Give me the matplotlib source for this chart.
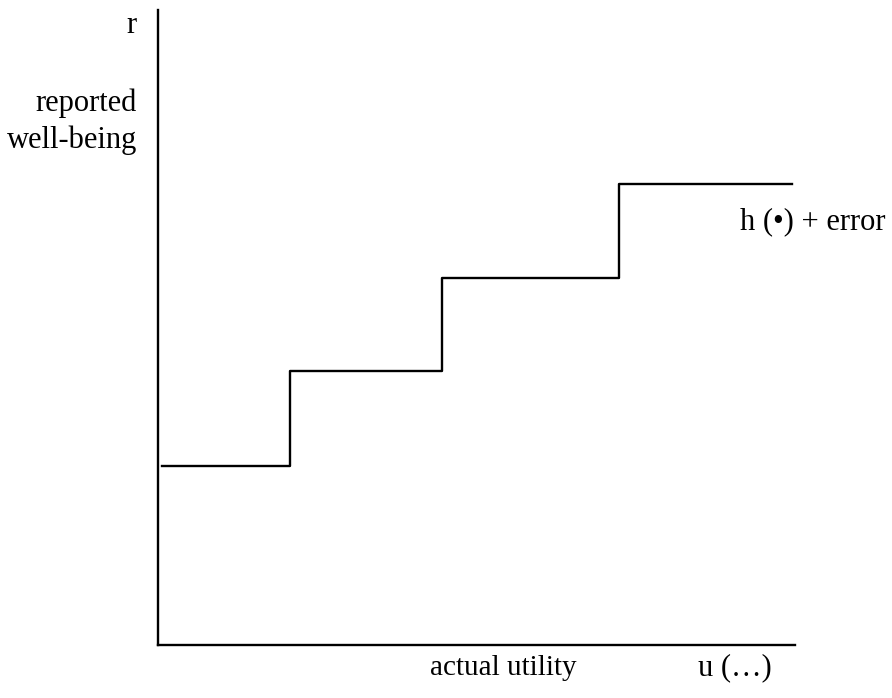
import matplotlib
matplotlib.use('Agg')
import matplotlib.pyplot as plt

# step function: utility break points and reported well-being levels
u_breaks = [0.06, 2.08, 4.46, 7.24, 9.95]
r_levels = [2.82, 4.31, 5.78, 7.26, 7.26]

plt.rcParams['font.family'] = ['Liberation Serif', 'DejaVu Serif']

fig = plt.figure(figsize=(8.92, 6.98), dpi=100)
ax = fig.add_axes([0.1771, 0.0759, 0.7141, 0.9097])
ax.set_xlim(0, 10)
ax.set_ylim(0, 10)

ax.step(u_breaks, r_levels, where='post', color='black', linewidth=1.7)

# only the two axis lines
for side in ['top', 'right']:
    ax.spines[side].set_visible(False)
for side in ['left', 'bottom']:
    ax.spines[side].set_linewidth(1.7)
ax.set_xticks([])
ax.set_yticks([])

fs = 22
ax.text(-0.33, 9.76, 'r', ha='right', va='center', fontsize=fs, clip_on=False)
ax.text(-0.33, 8.24, 'reported\nwell-being', ha='right', va='center',
        multialignment='right', fontsize=fs, linespacing=1.35, clip_on=False)
ax.text(9.14, 6.66, 'h (\u2022) + error', ha='left', va='center', fontsize=fs, clip_on=False)
ax.text(4.27, -0.36, 'actual utility', ha='left', va='center', fontsize=21, clip_on=False)
ax.text(8.48, -0.36, 'u (\u2026)', ha='left', va='center', fontsize=fs, clip_on=False)

fig.savefig('out.png', dpi=100)
